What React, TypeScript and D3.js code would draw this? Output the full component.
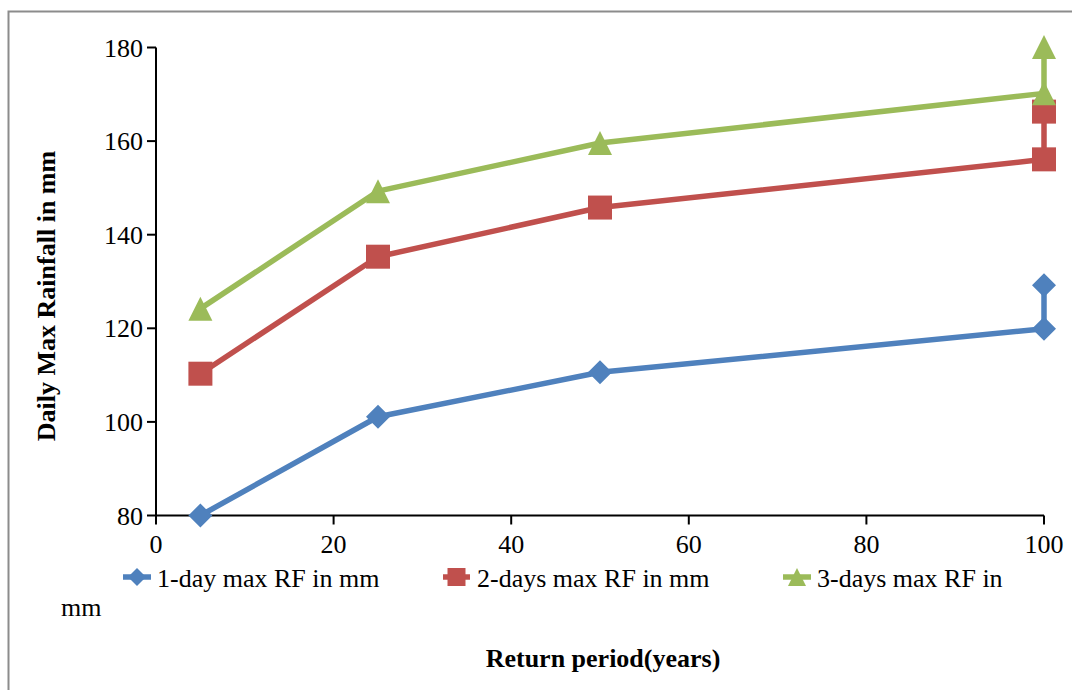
import React from "react";
import * as d3 from "d3";

const returnPeriods = [5, 25, 50, 100, 100];
const oneDay = [80, 101.1, 110.6, 119.9, 129.2];
const twoDays = [110.3, 135.3, 145.8, 156.1, 166.3];
const threeDays = [124.2, 149.3, 159.6, 170.2, 180.1];
const xTicks = [0, 20, 40, 60, 80, 100];
const yTicks = [80, 100, 120, 140, 160, 180];
const seriesNames = ["1-day max RF in mm", "2-days max RF in mm", "3-days max RF in"];
const seriesColors = ["#4F81BD", "#C0504D", "#9BBB59"];
const seriesShapes = ["diamond", "square", "triangle"];

const W = 1072;
const H = 690;
const FONT = "Liberation Serif, Times New Roman, serif";

const x = d3.scaleLinear().domain([0, 100]).range([156, 1044]);
const y = d3.scaleLinear().domain([80, 180]).range([515.5, 47.5]);

function markerPath(shape: string, size: number): string {
  const h = size / 2;
  if (shape === "diamond") {
    return `M0,${-h}L${h},0L0,${h}L${-h},0Z`;
  }
  if (shape === "square") {
    return `M${-h},${-h}H${h}V${h}H${-h}Z`;
  }
  return `M0,${-h}L${h},${h}L${-h},${h}Z`;
}

const txt = { fontFamily: FONT };

export default function App() {
  const allSeries = [oneDay, twoDays, threeDays];
  const line = d3
    .line<number>()
    .x((_, i) => x(returnPeriods[i]))
    .y((d) => y(d));

  const legendItems = [
    { lx0: 123, lx1: 151, tx: 157 },
    { lx0: 443, lx1: 470, tx: 477 },
    { lx0: 783, lx1: 811, tx: 817 },
  ];

  return (
    <svg
      width={W}
      height={H}
      style={{ position: "absolute", left: 0, top: 0, background: "#fff" }}
    >
      <rect x={0} y={0} width={W} height={H} fill="#fff" />
      <rect x={8.5} y={11.5} width={W + 10} height={H + 10} fill="none" stroke="#8c8c8c" strokeWidth={2} />

      {/* Axes */}
      <line x1={x(0)} x2={x(0)} y1={y(180)} y2={y(80)} stroke="#000" strokeWidth={2} />
      <line x1={x(0)} x2={x(100)} y1={y(80)} y2={y(80)} stroke="#000" strokeWidth={2} />
      {yTicks.map((t) => (
        <g key={"y" + t}>
          <line x1={x(0) - 9} x2={x(0)} y1={y(t)} y2={y(t)} stroke="#000" strokeWidth={2} />
          <text x={143} y={y(t) + 9} textAnchor="end" fontSize={26} fill="#000" style={txt}>
            {t}
          </text>
        </g>
      ))}
      {xTicks.map((t) => (
        <g key={"x" + t}>
          <line x1={x(t)} x2={x(t)} y1={y(80)} y2={y(80) + 9} stroke="#000" strokeWidth={2} />
          <text x={x(t)} y={553} textAnchor="middle" fontSize={26} fill="#000" style={txt}>
            {t}
          </text>
        </g>
      ))}

      {/* Series */}
      {allSeries.map((s, si) => (
        <g key={"s" + si}>
          <path d={line(s) as string} fill="none" stroke={seriesColors[si]} strokeWidth={5.5} strokeLinejoin="round" />
          {s.map((v, i) => (
            <path
              key={i}
              d={markerPath(seriesShapes[si], 24)}
              transform={`translate(${x(returnPeriods[i])},${y(v)})`}
              fill={seriesColors[si]}
            />
          ))}
        </g>
      ))}

      {/* Legend */}
      {legendItems.map((li, i) => (
        <g key={"l" + i}>
          <line x1={li.lx0} x2={li.lx1} y1={577} y2={577} stroke={seriesColors[i]} strokeWidth={5.5} />
          <path
            d={markerPath(seriesShapes[i], 18)}
            transform={`translate(${(li.lx0 + li.lx1) / 2},577)`}
            fill={seriesColors[i]}
          />
          <text x={li.tx} y={587} fontSize={26} fill="#000" style={txt}>
            {seriesNames[i]}
          </text>
        </g>
      ))}
      <text x={61} y={616} fontSize={26} fill="#000" style={txt}>
        mm
      </text>

      {/* Axis titles */}
      <text
        transform="translate(55,296) rotate(-90)"
        textAnchor="middle"
        fontSize={26}
        fontWeight="bold"
        fill="#000"
        style={txt}
      >
        Daily Max Rainfall in mm
      </text>
      <text x={603} y={667} textAnchor="middle" fontSize={26} fontWeight="bold" fill="#000" style={txt}>
        Return period(years)
      </text>
    </svg>
  );
}
